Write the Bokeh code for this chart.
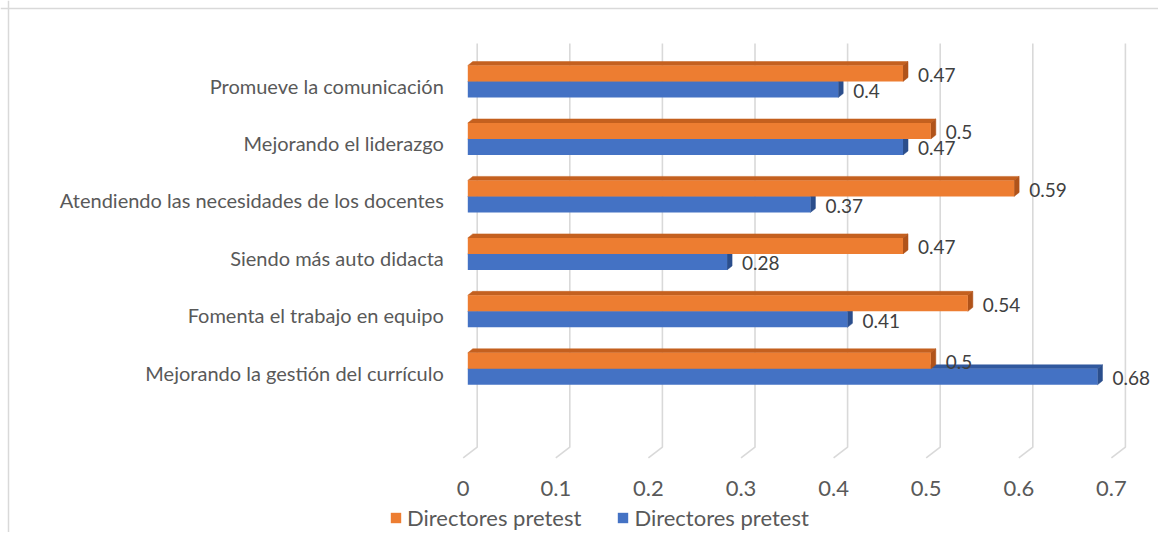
from bokeh.plotting import figure
from bokeh.models import Range1d, Span, Legend, LegendItem, ColumnDataSource
from bokeh.embed import file_html
from bokeh.resources import INLINE
from bokeh.core.properties import value

# ---------------- data ----------------
categories = [
    "Promueve la comunicación",
    "Mejorando el liderazgo",
    "Atendiendo las necesidades de los docentes",
    "Siendo más auto didacta",
    "Fomenta el trabajo en equipo",
    "Mejorando la gestión del currículo",
]
orange_vals = [0.47, 0.5, 0.59, 0.47, 0.54, 0.5]
blue_vals = [0.4, 0.47, 0.37, 0.28, 0.41, 0.68]
series_names = ["Directores pretest", "Directores pretest"]
ticks = [0, 0.1, 0.2, 0.3, 0.4, 0.5, 0.6, 0.7]
tick_labels = ["0", "0.1", "0.2", "0.3", "0.4", "0.5", "0.6", "0.7"]

# ---------------- layout (px) ----------------
W, H = 1158, 532
PXX = 926.0          # px per unit of value
PXY = 57.46          # px per category
X0 = 467.3           # canvas x of value 0
TOP_C = 81.0         # canvas y of top category centre
n = len(categories)
x_start = -X0 / PXX
x_end = (W - X0) / PXX
y_end = (n - 1) + TOP_C / PXY
y_start = y_end - H / PXY


def cy(py):
    return y_end - py / PXY


FONT = "Lato"
ORANGE, ORANGE_TOP, ORANGE_SIDE = "#ED7D31", "#C4601F", "#B0531A"
BLUE, BLUE_TOP, BLUE_SIDE = "#4472C4", "#31599F", "#2B4E8C"
GRID = "#D9D9D9"

p = figure(width=W, height=H, x_range=Range1d(x_start, x_end), y_range=Range1d(y_start, y_end),
           x_axis_type=None, y_axis_type=None, output_backend="svg", toolbar_location=None,
           min_border=0, background_fill_color="white", border_fill_color="white")
p.outline_line_color = None

# chart-area border (left / top)
p.add_layout(Span(location=x_start + 8 / PXX, dimension="height", line_color=GRID, line_width=1.5))
p.add_layout(Span(location=y_end - 8 / PXY, dimension="width", line_color=GRID, line_width=1.5))

# gridlines with 3D floor
bx, fx = 9.4 / PXX, -4.6 / PXX
gy_top, gy_knee, gy_floor = cy(43), cy(446.7), cy(457.3)
p.multi_line(xs=[[t + bx, t + bx, t + fx] for t in ticks],
             ys=[[gy_top, gy_knee, gy_floor] for _ in ticks],
             line_color=GRID, line_width=1.6)

pos = [n - 1 - i for i in range(n)]
half = 8 / PXY
dx, dy = 5 / PXX, 4 / PXY


def bar3d(vals, ycent, front, top, side):
    tx, ty, sx, sy = [], [], [], []
    for v, yc in zip(vals, ycent):
        yt, yb = yc + half, yc - half
        tx.append([0.0, dx, v + dx, v])
        ty.append([yt, yt + dy, yt + dy, yt])
        sx.append([v, v + dx, v + dx, v])
        sy.append([yt, yt + dy, yb + dy, yb])
    p.patches(xs=tx, ys=ty, fill_color=top, line_color=top, line_width=0.5)
    p.patches(xs=sx, ys=sy, fill_color=side, line_color=side, line_width=0.5)
    src = ColumnDataSource(dict(y=ycent, right=vals))
    return p.hbar(y="y", left=0, right="right", height=2 * half, source=src,
                  fill_color=front, line_color=None)


blue_y = [q - half for q in pos]
orange_y = [q + half for q in pos]
r_blue = bar3d(blue_vals, blue_y, BLUE, BLUE_TOP, BLUE_SIDE)
r_orange = bar3d(orange_vals, orange_y, ORANGE, ORANGE_TOP, ORANGE_SIDE)

# data labels
for vals, ys in ((blue_vals, blue_y), (orange_vals, orange_y)):
    p.text(x=vals, y=ys, text=[f"{v:g}" for v in vals], x_offset=15, y_offset=1.5,
           text_align="left", text_baseline="middle", text_font=value(FONT),
           text_font_size="19px", text_color="#404040")

# category labels
p.text(x=[0] * n, y=[q - 4 / PXY for q in pos], text=categories, x_offset=-24,
       text_align="right", text_baseline="middle", text_font=value(FONT),
       text_font_size="20px", text_color="#595959")

# tick labels
p.text(x=[t + fx for t in ticks], y=[cy(488)] * len(ticks), text=tick_labels,
       text_align="center", text_baseline="middle", text_font=value(FONT),
       text_font_size="22px", text_color="#595959")

legend = Legend(items=[LegendItem(label=series_names[0], renderers=[r_orange]),
                       LegendItem(label=series_names[1], renderers=[r_blue])],
                orientation="horizontal", location=(389, 1), padding=0, margin=0,
                spacing=35, label_standoff=5, glyph_width=13, glyph_height=13,
                label_text_font=FONT, label_text_font_size="22px", label_text_color="#595959",
                border_line_color=None, background_fill_alpha=0)
p.add_layout(legend)

open("out.html", "w").write(file_html(p, INLINE))
